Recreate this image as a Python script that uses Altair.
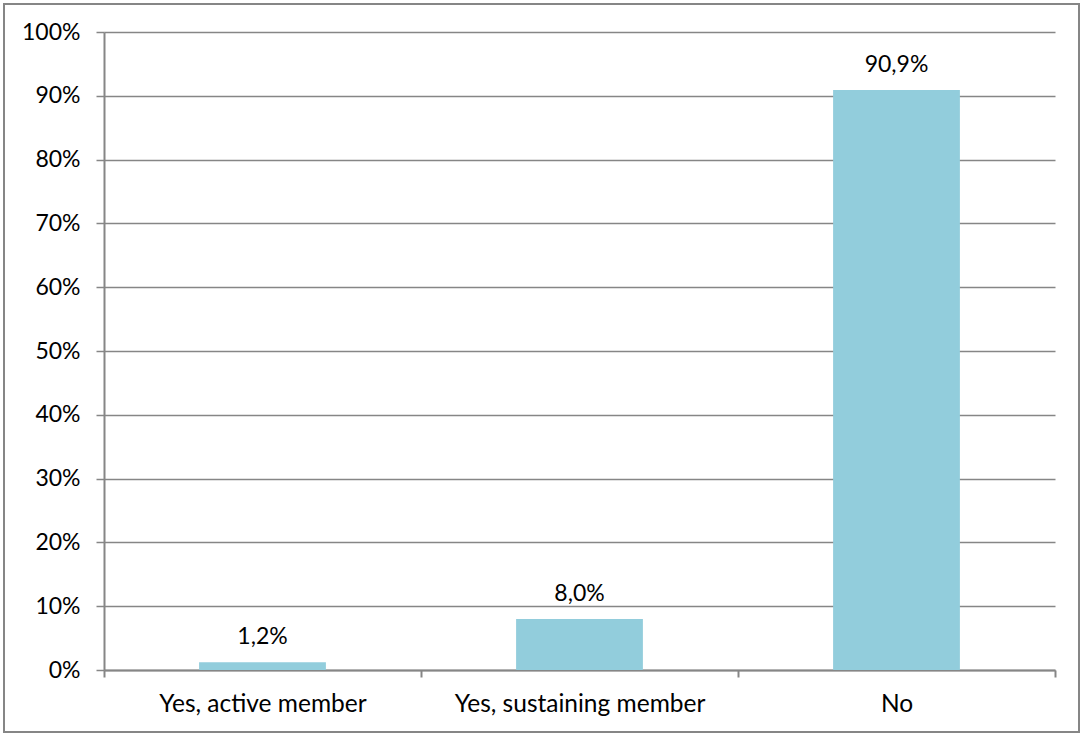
import altair as alt
import pandas as pd

categories = ["Yes, active member", "Yes, sustaining member", "No"]
values = [1.2, 8.0, 90.9]

df = pd.DataFrame({"cat": categories, "val": values})

FONT = "Lato"
GRAY = "#868686"
FS = 23

base = alt.Chart(df).encode(
    x=alt.X("cat:N", sort=categories,
            scale=alt.Scale(paddingInner=0, paddingOuter=0),
            axis=alt.Axis(title=None, labelAngle=0, labelFontSize=24.5, labelFont=FONT,
                          labelColor="#000", labelPadding=15, tickBand="extent", labelLimit=0,
                          tickSize=7, tickColor=GRAY, tickWidth=2, domainColor=GRAY,
                          domainWidth=2, grid=False)),
)

bars = base.mark_bar(color="#92CDDC", width=alt.RelativeBandSize(0.4)).encode(
    y=alt.Y("val:Q", scale=alt.Scale(domain=[0, 100]),
            axis=alt.Axis(title=None, values=list(range(0, 101, 10)),
                          labelExpr="datum.value + '%'", labelFontSize=FS, labelFont=FONT,
                          labelColor="#000", labelPadding=16, tickSize=8, tickColor=GRAY,
                          tickWidth=1.5, domainColor=GRAY, domainWidth=2,
                          gridColor=GRAY, gridWidth=1.5))
)

text = base.mark_text(baseline="bottom", dy=-13, fontSize=FS, font=FONT, color="#000").encode(
    y=alt.Y("val:Q"),
    text=alt.Text("lab:N"),
).transform_calculate(lab="replace(format(datum.val, '.1f'), '.', ',') + '%'")

border = alt.Chart(pd.DataFrame({"a": [0]})).mark_rect(
    fill=None, stroke=GRAY, strokeWidth=2
).encode(x=alt.value(-100), x2=alt.value(975), y=alt.value(-28), y2=alt.value(700))

chart = alt.layer(bars, text, border).properties(
    width=951, height=638,
    autosize=alt.AutoSizeParams(type="none"),
    padding={"left": 104, "top": 32, "right": 28, "bottom": 66},
    background="white",
).configure_view(stroke=None)

chart.save("out.html", embed_options={"renderer": "svg", "actions": False})
